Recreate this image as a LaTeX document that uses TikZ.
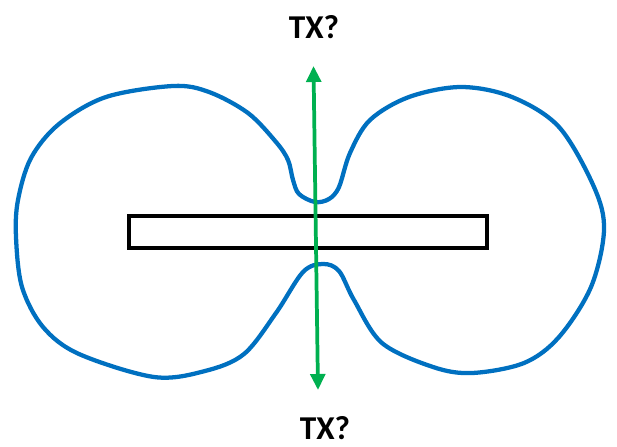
\documentclass[tikz,border=0pt]{standalone}
\usepackage{fontspec}
\setmainfont{Carlito}
\usetikzlibrary{arrows.meta}
\definecolor{lobeblue}{RGB}{0,112,192}
\definecolor{axisgreen}{RGB}{0,176,80}
\tikzset{
  lobe/.style={draw=lobeblue, line width=3.2pt, line join=round},
  elem/.style={draw=black, line width=2.6pt},
  axis/.style={draw=axisgreen, line width=2.8pt, {Triangle[length=12pt,width=11pt]}-{Triangle[length=12pt,width=11pt]}},
  lbl/.style={font=\bfseries\fontsize{25}{28}\selectfont, inner sep=0pt}
}
\begin{document}
\begin{tikzpicture}[x=0.75pt,y=-0.75pt]
\useasboundingbox (0,0) rectangle (617,446);
% radiation pattern
\draw[lobe] plot[smooth cycle, tension=0.55] coordinates {
 (315,202) (299,194) (293,180) (288,160) (276,142) (248,113) (209,92) (173,86)
 (106,97) (59,124) (31,158) (18,200) (16,237) (22,287) (43,327) (79,354)
 (154,377) (205,371) (244,354) (276,313) (303,272) (323,264) (339,271)
 (354,300) (382,343) (433,367) (472,373) (524,363) (559,337) (591,287)
 (604,230) (594,187) (559,127) (512,97) (461,87) (409,97) (370,120)
 (350,153) (339,187) (329,199)
};
% antenna element
\node[elem, minimum width=358*0.75pt, minimum height=32*0.75pt, inner sep=0pt] (ant) at (308,232) {};
% labels
\node[lbl] (ttop) at (314,27) {TX?};
\node[lbl] (tbot) at (325,428) {TX?};
\coordinate (atop) at (313.5,66);
\coordinate (abot) at (318,390);
\draw[axis] (abot) -- (atop);
\end{tikzpicture}
\end{document}
